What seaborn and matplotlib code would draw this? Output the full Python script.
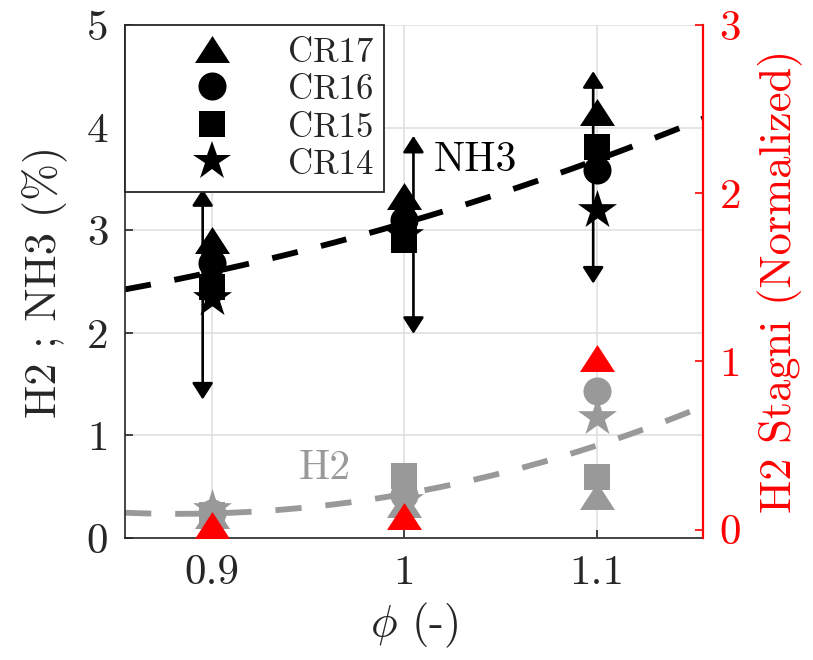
import numpy as np
import pandas as pd
import matplotlib
matplotlib.use("Agg")
import matplotlib.pyplot as plt
import seaborn as sns
from matplotlib.lines import Line2D
from matplotlib.patches import ArrowStyle

# ---------------- data ----------------
phi = [0.9, 1.0, 1.1]
cases = ["CR17", "CR16", "CR15", "CR14"]

nh3_cr17 = [2.90, 3.33, 4.15]
nh3_cr16 = [2.68, 3.10, 3.59]
nh3_cr15 = [2.45, 2.90, 3.81]
nh3_cr14 = [2.34, 2.95, 3.20]

h2_cr17 = [0.22, 0.33, 0.41]
h2_cr16 = [0.24, 0.42, 1.43]
h2_cr15 = [0.22, 0.60, 0.59]
h2_cr14 = [0.28, 0.37, 1.18]

h2_stagni = [0.03, 0.08, 1.02]

arrow_phi = [0.8953, 1.0047, 1.098]
arrow_low = [1.35, 1.99, 2.48]
arrow_high = [3.40, 3.92, 4.55]

x_ticks = [0.9, 1.0, 1.1]
x_tick_labels = ["0.9", "1", "1.1"]
left_ticks = [0, 1, 2, 3, 4, 5]
right_ticks = [0, 1, 2, 3]

nh3 = {"CR17": nh3_cr17, "CR16": nh3_cr16, "CR15": nh3_cr15, "CR14": nh3_cr14}
h2 = {"CR17": h2_cr17, "CR16": h2_cr16, "CR15": h2_cr15, "CR14": h2_cr14}

# ---------------- style ----------------
sns.set_theme(style="white")
plt.rcParams.update({
    "font.family": "cmr10",
    "mathtext.fontset": "cm",
    "axes.formatter.use_mathtext": True,
    "axes.unicode_minus": False,
})

DARK = "#262626"
GRAY = (0.6, 0.6, 0.6)
tri = [(-1, -0.77), (1, -0.77), (0, 0.77)]
marker_map = {"CR17": tri, "CR16": "o", "CR15": "s", "CR14": "*"}
msize = {"CR17": 25.2, "CR16": 20.2, "CR15": 18.7, "CR14": 29.5}

fig = plt.figure(figsize=(8.13, 6.6), dpi=100)
ax = fig.add_axes([0.1538, 0.1848, 0.7109, 0.7773])
ax2 = ax.twinx()

xlim = (0.855, 1.155)

# trend curves (quadratic fit of the plotted points)
xfit = np.linspace(xlim[0], xlim[1], 200)
nh3_all = np.concatenate([nh3[c] for c in cases])
h2_all = np.concatenate([h2[c] for c in cases])
phi_all = np.tile(phi, len(cases))
nh3_fit = np.polyval(np.polyfit(phi_all, nh3_all, 2), xfit)
h2_fit = np.polyval(np.polyfit(phi_all, h2_all, 2), xfit)

sns.lineplot(x=xfit, y=nh3_fit, ax=ax, color="black", lw=4.2,
             linestyle=(0, (4.5, 4.1)), zorder=2)
sns.lineplot(x=xfit, y=h2_fit, ax=ax, color=GRAY, lw=4.2,
             linestyle=(0, (4.5, 4.1)), zorder=2)

for c in cases:
    sns.scatterplot(x=phi, y=nh3[c], ax=ax, marker=marker_map[c],
                    s=msize[c] ** 2, color="black", linewidth=0, zorder=3)
    sns.scatterplot(x=phi, y=h2[c], ax=ax, marker=marker_map[c],
                    s=msize[c] ** 2, color=GRAY, linewidth=0, zorder=3)

# double arrows
for xa, lo, hi in zip(arrow_phi, arrow_low, arrow_high):
    ax.annotate("", xy=(xa, hi), xytext=(xa, lo),
                arrowprops=dict(arrowstyle=ArrowStyle("<|-|>", head_length=0.5, head_width=0.32),
                                mutation_scale=20, lw=1.9, color="black",
                                shrinkA=0, shrinkB=0), zorder=4)

ax.text(1.015, 3.68, "NH3", fontsize=30, va="center", ha="left", color="black")
ax.text(0.945, 0.68, "H2", fontsize=30, va="center", ha="left", color=GRAY)

# red normalized points on right axis
sns.scatterplot(x=phi, y=h2_stagni, ax=ax2, marker=tri, s=msize["CR17"] ** 2,
                color="red", linewidth=0, zorder=5)

# axes formatting
ax.set_xlim(*xlim)
ax.set_ylim(0, 5)
ax2.set_ylim(-0.05, 3)
ax.set_xticks(x_ticks)
ax.set_xticklabels(x_tick_labels)
ax.set_yticks(left_ticks)
ax.set_yticklabels([str(t) for t in left_ticks])
ax2.set_yticks(right_ticks)
ax2.set_yticklabels([str(t) for t in right_ticks])

ax.grid(True, color="#dedede", lw=1.1)
ax.set_axisbelow(True)

for s in ["top", "right"]:
    ax.spines[s].set_visible(False)
for s in ["left", "bottom"]:
    ax.spines[s].set_color(DARK)
    ax.spines[s].set_linewidth(1.2)
for s in ["top", "left", "bottom"]:
    ax2.spines[s].set_visible(False)
ax2.spines["right"].set_color("red")
ax2.spines["right"].set_linewidth(1.6)

ax.tick_params(axis="both", direction="in", length=6, width=1.2, colors=DARK,
               labelsize=31, pad=12, left=True, bottom=True)
ax2.tick_params(axis="y", direction="in", length=6, width=1.2, colors="red",
                labelsize=31, pad=12, right=True)

ax.set_xlabel(r"$\phi$ (-)", fontsize=32, color=DARK, labelpad=6)
ax.set_ylabel("H2 ; NH3 (%)", fontsize=32, color=DARK, labelpad=14)
ax2.set_ylabel("H2 Stagni (Normalized)", fontsize=32, color="red", labelpad=12)

handles = [Line2D([], [], marker=marker_map[c], color="black", linestyle="none",
                  markersize=msize[c], markeredgewidth=0) for c in cases]
leg = ax.legend(handles, cases, loc="upper left", bbox_to_anchor=(0, 1),
                borderaxespad=0, fontsize=25, frameon=True, fancybox=False,
                framealpha=1, edgecolor=DARK, borderpad=0.3, handlelength=4.4,
                handletextpad=0.0, labelspacing=0.12, handleheight=0.9)
leg.get_frame().set_linewidth(1.3)
leg.set_zorder(10)

fig.savefig("out.png", dpi=100)
